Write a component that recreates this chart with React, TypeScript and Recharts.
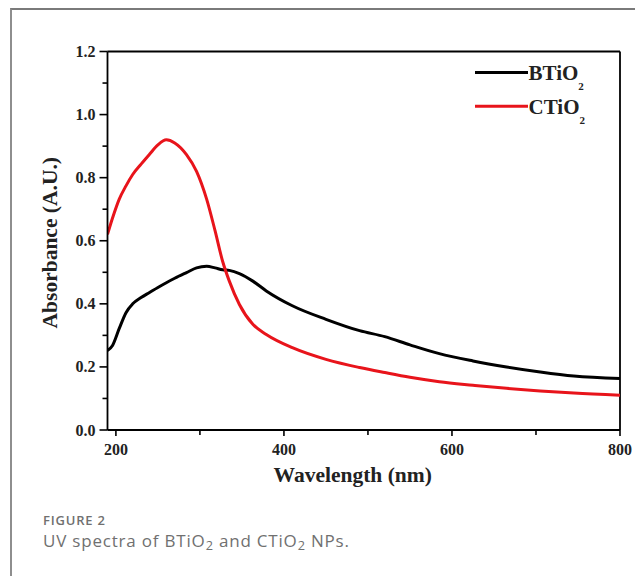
import { LineChart, Line, XAxis, YAxis, ReferenceLine, Legend } from 'recharts'

// Wavelength (nm) sampled along both spectra
const wavelengths = [
  190, 196, 204, 212, 220, 230, 240, 250, 260, 270, 284, 296, 308, 318, 327,
  335, 347, 363, 379, 410, 450, 490, 520, 550, 585, 625, 665, 705, 745, 800,
]
const bTiO2 = [
  0.252, 0.268, 0.322, 0.372, 0.4, 0.42, 0.436, 0.452, 0.467, 0.481, 0.499, 0.514, 0.519, 0.514, 0.508,
  0.506, 0.496, 0.472, 0.441, 0.394, 0.351, 0.315, 0.296, 0.27, 0.242, 0.219, 0.2, 0.184, 0.171, 0.163,
]
const cTiO2 = [
  0.62, 0.672, 0.732, 0.774, 0.81, 0.843, 0.874, 0.904, 0.92, 0.91, 0.873, 0.82, 0.732, 0.632, 0.535,
  0.472, 0.398, 0.335, 0.303, 0.261, 0.224, 0.198, 0.182, 0.167, 0.153, 0.142, 0.132, 0.124, 0.117, 0.11,
]
const xTicks = [200, 300, 400, 500, 600, 700, 800]
const xLabels = [200, 400, 600, 800]
const yTicks = [0, 0.1, 0.2, 0.3, 0.4, 0.5, 0.6, 0.7, 0.8, 0.9, 1.0, 1.1, 1.2]
const yLabels = [0, 0.2, 0.4, 0.6, 0.8, 1.0, 1.2]

const data = wavelengths.map((w, i) => ({ w, b: bTiO2[i], c: cTiO2[i] }))

const SERIF = '"Liberation Serif", "Times New Roman", serif'
const RED = '#e8141b'

const isMajor = (list: number[], v: number) => list.some((m) => Math.abs(m - v) < 1e-6)

// left axis: label sits tickSize + tickMargin left of the axis line
function YTick(props: any) {
  const { x, y, payload } = props
  const axisX = x + 11
  const major = isMajor(yLabels, payload.value)
  return (
    <g>
      <line x1={axisX - (major ? 8 : 5)} x2={axisX} y1={y} y2={y} stroke="#000" strokeWidth={1.6} />
      {major ? (
        <text x={axisX - 12} y={y + 5.5} textAnchor="end" fontFamily={SERIF} fontWeight={700} fontSize={16} fill="#222">
          {payload.value.toFixed(1)}
        </text>
      ) : null}
    </g>
  )
}

function XTick(props: any) {
  const { x, y, payload } = props
  const axisY = y - 10
  const major = isMajor(xLabels, payload.value)
  return (
    <g>
      <line x1={x} x2={x} y1={axisY} y2={axisY + (major ? 6 : 5)} stroke="#000" strokeWidth={1.6} />
      {major ? (
        <text x={x} y={axisY + 25} textAnchor="middle" fontFamily={SERIF} fontWeight={700} fontSize={16} fill="#222">
          {payload.value}
        </text>
      ) : null}
    </g>
  )
}

function YTitle(props: any) {
  const { viewBox } = props
  const cx = 41.5
  const cy = viewBox.y + viewBox.height / 2 + 2
  return (
    <text
      x={cx}
      y={cy}
      transform={`rotate(-90, ${cx}, ${cy})`}
      dy="0.36em"
      textAnchor="middle"
      fontFamily={SERIF}
      fontWeight={700}
      fontSize={21.5}
      fill="#222"
    >
      Absorbance (A.U.)
    </text>
  )
}

function XTitle(props: any) {
  const { viewBox } = props
  return (
    <text
      x={viewBox.x + viewBox.width / 2 - 11}
      y={474}
      textAnchor="middle"
      fontFamily={SERIF}
      fontWeight={700}
      fontSize={21.5}
      fill="#222"
    >
      Wavelength (nm)
    </text>
  )
}

const legendItems = [
  { name: 'BTiO', sub: '2', color: '#000' },
  { name: 'CTiO', sub: '2', color: RED },
]

function LegendBox() {
  return (
    <svg width={150} height={80}>
      {legendItems.map((it, i) => (
        <g key={it.name + i}>
          <line x1={5} x2={58} y1={17.5 + i * 33.7} y2={17.5 + i * 33.7} stroke={it.color} strokeWidth={3} />
          <text x={58.5} y={25 + i * 34.3} fontFamily={SERIF} fontWeight={700} fontSize={21} fill="#222">
            {it.name}
            <tspan fontSize={11} dy={9.5}>{it.sub}</tspan>
          </text>
        </g>
      ))}
    </svg>
  )
}

const subStyle = { fontSize: '0.75em', verticalAlign: '-0.25em' }

export default function App() {
  return (
    <div style={{ position: 'relative', width: 635, height: 568 }}>
      <div
        style={{
          position: 'absolute',
          left: 2,
          top: 0,
          width: 640,
          height: 580,
          borderLeft: '2px solid #8e8e8e',
          borderTop: '2px solid #7a7a7a',
        }}
      />
      <div style={{ position: 'absolute', left: 0, top: 0 }}>
        <LineChart width={635} height={500} data={data} margin={{ top: 43.5, right: 23, left: 0, bottom: 18 }}>
          <XAxis
            dataKey="w"
            type="number"
            domain={[190, 800]}
            ticks={xTicks}
            interval={0}
            allowDataOverflow
            axisLine={{ stroke: '#000', strokeWidth: 1.8 }}
            tickLine={false}
            tickSize={6}
            tickMargin={4}
            height={60}
            tick={<XTick />}
            label={<XTitle />}
          />
          <YAxis
            type="number"
            domain={[0, 1.2]}
            ticks={yTicks}
            interval={0}
            allowDataOverflow
            axisLine={{ stroke: '#000', strokeWidth: 1.8 }}
            tickLine={false}
            tickSize={8}
            tickMargin={3}
            width={99.5}
            tick={<YTick />}
            label={<YTitle />}
          />
          <ReferenceLine y={1.2} stroke="#000" strokeWidth={1.8} />
          <ReferenceLine x={800} stroke="#000" strokeWidth={1.8} />
          <Legend
            layout="horizontal"
            verticalAlign="middle"
            align="center"
            wrapperStyle={{ left: 462, top: 47, width: 150, height: 80 }}
            content={<LegendBox />}
          />
          <Line
            type="monotone"
            dataKey="b"
            name="BTiO2"
            stroke="#000"
            strokeWidth={3}
            dot={false}
            activeDot={false}
            isAnimationActive={false}
          />
          <Line
            type="monotone"
            dataKey="c"
            name="CTiO2"
            stroke={RED}
            strokeWidth={3}
            dot={false}
            activeDot={false}
            isAnimationActive={false}
          />
        </LineChart>
      </div>
      <div
        style={{
          position: 'absolute',
          left: 35,
          top: 504,
          fontFamily: '"Open Sans", sans-serif',
          color: '#707070',
        }}
      >
        <div style={{ fontSize: 13, fontWeight: 600, lineHeight: '16px', letterSpacing: 0.8 }}>FIGURE 2</div>
        <div style={{ fontSize: 17, fontWeight: 400, lineHeight: '24px', marginTop: 1, letterSpacing: 0.8 }}>
          UV spectra of BTiO<sub style={subStyle}>2</sub> and CTiO<sub style={subStyle}>2</sub> NPs.
        </div>
      </div>
    </div>
  )
}
